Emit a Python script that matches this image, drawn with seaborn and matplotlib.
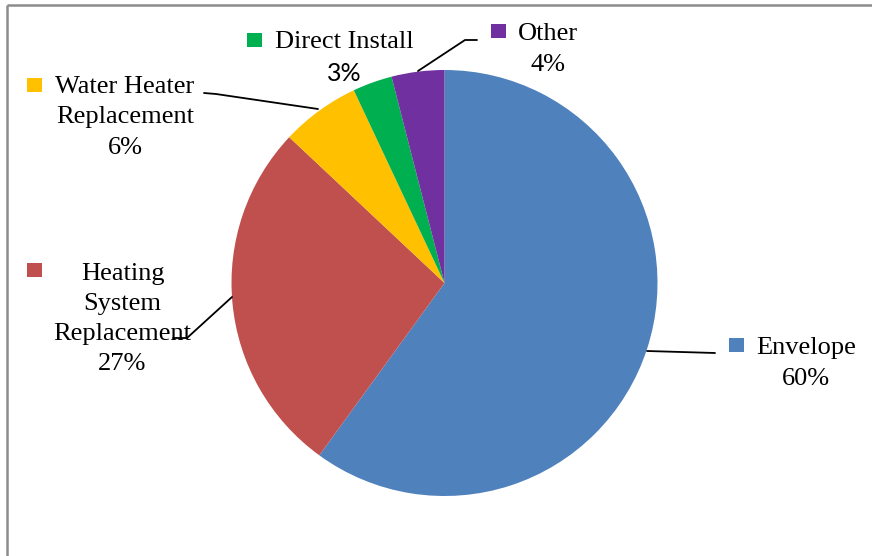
import matplotlib
matplotlib.use("Agg")
import matplotlib.pyplot as plt
import seaborn as sns
from matplotlib.patches import Rectangle

# ---- data ----
categories = ["Envelope", "Heating System Replacement", "Water Heater Replacement",
              "Direct Install", "Other"]
shares = [60, 27, 6, 3, 4]
pct_labels = ["60%", "27%", "6%", "3%", "4%"]
label_lines = [["Envelope"], ["Heating", "System", "Replacement"],
               ["Water Heater", "Replacement"], ["Direct Install"], ["Other"]]
colors = ["#4F81BD", "#C0504D", "#FFC000", "#00B050", "#7030A0"]

# ---- layout (pixel coordinates, y from top) ----
W, H = 872, 556
pie_center = (444.5, 283)
pie_radius = 213
label_x = [806, 122.5, 125, 344, 548]
label_base = [354, 280, 93, 48, 40]
line_gap = [31, 30, 30.5, 33, 31]
square_xy = [(736, 345), (34, 270), (34, 84.5), (254, 39.5), (498, 31)]
leaders = [
    [(647, 351), (715, 353)],
    [(232, 297), (187, 338), (173, 338)],
    [(318, 109), (216, 94), (204, 93)],
    None,
    [(418, 71), (465, 40), (477, 40)],
]

sns.set_theme(style="white")
plt.rcParams["font.family"] = ["Liberation Serif", "DejaVu Sans"]

fig = plt.figure(figsize=(W / 100, H / 100), dpi=100)
ax = fig.add_axes([0, 0, 1, 1])

def Y(py):
    return H - py

ax.pie(shares, colors=colors, startangle=90, counterclock=False,
       center=(pie_center[0], Y(pie_center[1])), radius=pie_radius,
       wedgeprops=dict(linewidth=0), frame=False)
ax.set_xlim(0, W)
ax.set_ylim(0, H)
ax.set_aspect("auto")
ax.axis("off")

# frame lines
ax.plot([7, W], [Y(5), Y(5)], color="#8c8c8c", lw=1.8, solid_capstyle="butt")
ax.plot([7, 7], [Y(5), Y(H)], color="#8c8c8c", lw=1.8, solid_capstyle="butt")

for i, cat in enumerate(categories):
    lines = label_lines[i] + [pct_labels[i]]
    for j, t in enumerate(lines):
        is_pct = j == len(lines) - 1
        sans = is_pct and cat == "Direct Install"
        fam = ["Lato", "DejaVu Sans"] if sans else ["Liberation Serif", "DejaVu Sans"]
        fs = 18 if sans else 19
        ax.text(label_x[i], Y(label_base[i] + j * line_gap[i]), t,
                ha="center", va="baseline", fontsize=fs, family=fam, color="black")
    sx, sy = square_xy[i]
    ax.add_patch(Rectangle((sx - 7.5, Y(sy) - 7), 15, 14, color=colors[i], lw=0))
    if leaders[i]:
        xs = [p[0] for p in leaders[i]]
        ys = [Y(p[1]) for p in leaders[i]]
        ax.plot(xs, ys, color="black", lw=1.3)

fig.savefig("out.png", dpi=100)
